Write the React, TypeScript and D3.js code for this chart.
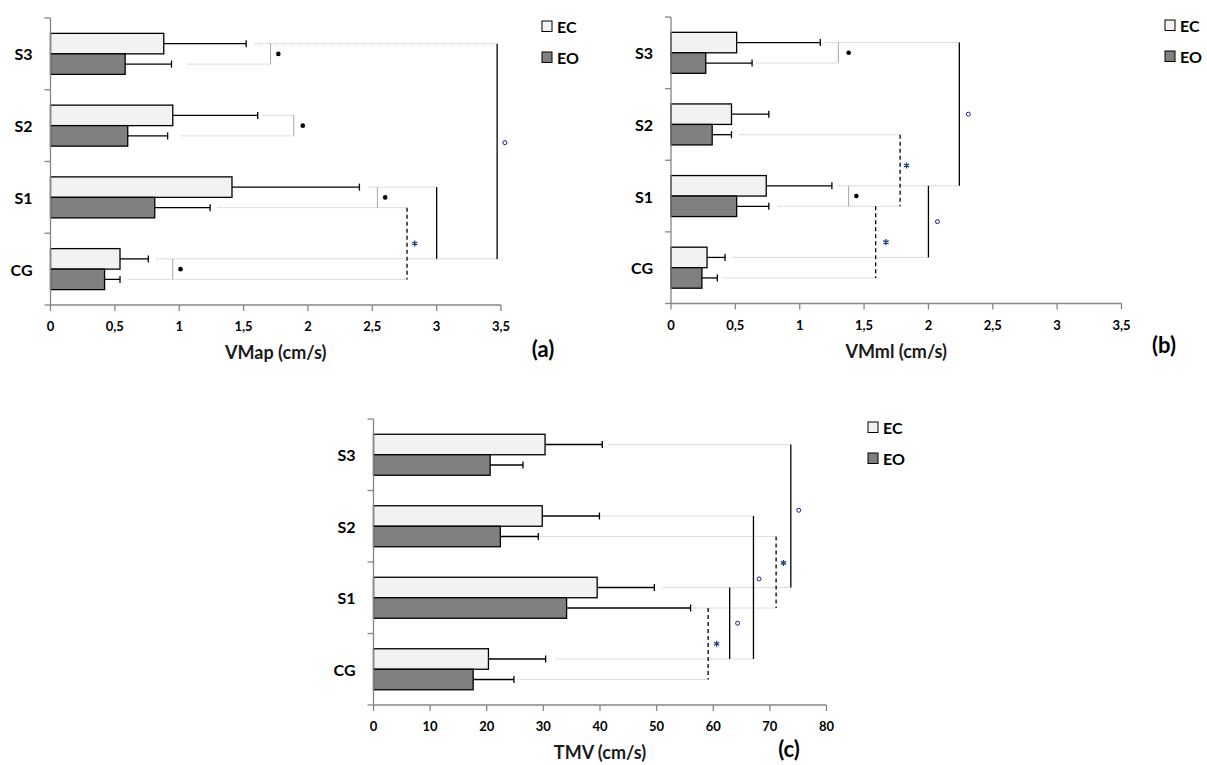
import * as d3 from "d3";

// categories top to bottom
const categories = ["S3", "S2", "S1", "CG"];
const series = ["EC", "EO"];

// (a) VMap (cm/s)
const vmapEC = [0.88, 0.95, 1.41, 0.54];
const vmapECsd = [0.64, 0.66, 0.99, 0.22];
const vmapEO = [0.58, 0.6, 0.81, 0.42];
const vmapEOsd = [0.36, 0.31, 0.43, 0.12];

// (b) VMml (cm/s)
const vmmlEC = [0.51, 0.47, 0.74, 0.28];
const vmmlECsd = [0.65, 0.29, 0.51, 0.14];
const vmmlEO = [0.27, 0.32, 0.51, 0.24];
const vmmlEOsd = [0.36, 0.15, 0.25, 0.12];

// (c) TMV (cm/s)
const tmvEC = [30.3, 29.8, 39.5, 20.3];
const tmvECsd = [10.1, 10.1, 10.1, 10.1];
const tmvEO = [20.6, 22.4, 34.1, 17.6];
const tmvEOsd = [5.8, 6.7, 21.9, 7.2];

// dotted guide lines: [category, series, from, to]
type Leader = [string, string, number, number];
const vmapLeaders: Leader[] = [
  ["S3", "EC", 1.59, 3.47],
  ["S3", "EO", 1.06, 1.71],
  ["S2", "EC", 1.65, 1.89],
  ["S2", "EO", 1.01, 1.89],
  ["S1", "EC", 2.47, 3.0],
  ["S1", "EO", 1.3, 2.77],
  ["CG", "EC", 0.82, 3.47],
  ["CG", "EO", 0.6, 2.77],
];
const vmmlLeaders: Leader[] = [
  ["S3", "EC", 1.19, 2.24],
  ["S3", "EO", 0.66, 1.3],
  ["S2", "EO", 0.53, 1.78],
  ["S1", "EC", 1.29, 2.24],
  ["S1", "EO", 0.83, 1.78],
  ["CG", "EC", 0.48, 2.0],
  ["CG", "EO", 0.4, 1.59],
];
const tmvLeaders: Leader[] = [
  ["S3", "EC", 41.5, 73.7],
  ["S2", "EC", 40.1, 67.1],
  ["S2", "EO", 29.5, 71.1],
  ["S1", "EC", 50.9, 73.7],
  ["S1", "EO", 56.4, 71.1],
  ["CG", "EC", 32.1, 67.1],
  ["CG", "EO", 25.5, 59.1],
];

// significance brackets
type Bracket = {
  a: [string, string];
  b: [string, string];
  x: number;
  kind: "pair" | "group" | "groupEO";
  mark: "dot" | "star" | "ring" | null;
  mx: number;
  t?: number;
};
const vmapBrackets: Bracket[] = [
  { a: ["S3", "EC"], b: ["S3", "EO"], x: 1.71, kind: "pair", mark: "dot", mx: 1.77 },
  { a: ["S2", "EC"], b: ["S2", "EO"], x: 1.89, kind: "pair", mark: "dot", mx: 1.96 },
  { a: ["S1", "EC"], b: ["S1", "EO"], x: 2.54, kind: "pair", mark: "dot", mx: 2.6 },
  { a: ["CG", "EC"], b: ["CG", "EO"], x: 0.95, kind: "pair", mark: "dot", mx: 1.01 },
  { a: ["S1", "EO"], b: ["CG", "EO"], x: 2.77, kind: "groupEO", mark: "star", mx: 2.83 },
  { a: ["S1", "EC"], b: ["CG", "EC"], x: 3.0, kind: "group", mark: null, mx: 3.0 },
  { a: ["S3", "EC"], b: ["CG", "EC"], x: 3.47, kind: "group", mark: "ring", mx: 3.53, t: 0.46 },
];
const vmmlBrackets: Bracket[] = [
  { a: ["S3", "EC"], b: ["S3", "EO"], x: 1.3, kind: "pair", mark: "dot", mx: 1.38 },
  { a: ["S1", "EC"], b: ["S1", "EO"], x: 1.38, kind: "pair", mark: "dot", mx: 1.44 },
  { a: ["S2", "EO"], b: ["S1", "EO"], x: 1.78, kind: "groupEO", mark: "star", mx: 1.83, t: 0.43 },
  { a: ["S1", "EO"], b: ["CG", "EO"], x: 1.59, kind: "groupEO", mark: "star", mx: 1.67 },
  { a: ["S1", "EC"], b: ["CG", "EC"], x: 2.0, kind: "group", mark: "ring", mx: 2.07 },
  { a: ["S3", "EC"], b: ["S1", "EC"], x: 2.24, kind: "group", mark: "ring", mx: 2.31 },
];
const tmvBrackets: Bracket[] = [
  { a: ["S3", "EC"], b: ["S1", "EC"], x: 73.7, kind: "group", mark: "ring", mx: 75.1, t: 0.46 },
  { a: ["S2", "EC"], b: ["CG", "EC"], x: 67.1, kind: "group", mark: "ring", mx: 68.1, t: 0.44 },
  { a: ["S2", "EO"], b: ["S1", "EO"], x: 71.1, kind: "groupEO", mark: "star", mx: 72.4, t: 0.37 },
  { a: ["S1", "EC"], b: ["CG", "EC"], x: 62.9, kind: "group", mark: "ring", mx: 64.3 },
  { a: ["S1", "EO"], b: ["CG", "EO"], x: 59.1, kind: "groupEO", mark: "star", mx: 60.6 },
];

const FONT = "Lato, 'Open Sans', sans-serif";
const fmt = (v: number) => String(v).replace(".", ",");

type PanelProps = {
  left: number;
  right: number;
  top: number;
  bottom: number;
  max: number;
  step: number;
  title: string;
  tag: string;
  tagX: number;
  tagY: number;
  legendX: number;
  legendY: number;
  ec: number[];
  ecSd: number[];
  eo: number[];
  eoSd: number[];
  leaders: Leader[];
  brackets: Bracket[];
};

function Panel(p: PanelProps) {
  const x = d3.scaleLinear().domain([0, p.max]).range([p.left, p.right]);
  const y = d3.scaleBand().domain(categories).range([p.top, p.bottom]);
  const barH = 20.5;
  const cy = (c: string) => (y(c) ?? 0) + y.bandwidth() / 2;
  const sy = (c: string, s: string) => cy(c) + (s === "EC" ? -barH / 2 : barH / 2);
  const ticks = d3.range(0, p.max + p.step / 2, p.step);
  const yTicks = [...categories.map((c) => y(c) ?? 0), p.bottom];
  const star = d3.symbol(d3.symbolAsterisk, 26)();
  const vals: Record<string, [number[], number[]]> = {
    EC: [p.ec, p.ecSd],
    EO: [p.eo, p.eoSd],
  };

  return (
    <g>
      {/* bars + error bars */}
      {categories.map((c, i) =>
        series.map((s) => {
          const [m, sd] = vals[s];
          const yc = sy(c, s);
          const xe = x(m[i] + sd[i]);
          return (
            <g key={c + s}>
              <rect
                x={x(0)}
                y={yc - barH / 2}
                width={x(m[i]) - x(0)}
                height={barH}
                fill={s === "EC" ? "#f2f2f2" : "#808080"}
                stroke="#000"
                strokeWidth={1.3}
              />
              <line x1={x(m[i])} x2={xe} y1={yc} y2={yc} stroke="#000" strokeWidth={1.3} />
              <line x1={xe} x2={xe} y1={yc - 3.5} y2={yc + 3.5} stroke="#000" strokeWidth={1.3} />
            </g>
          );
        })
      )}

      {/* dotted guides */}
      {p.leaders.map(([c, s, a, b], i) => (
        <line
          key={"l" + i}
          x1={x(a)}
          x2={x(b)}
          y1={sy(c, s)}
          y2={sy(c, s)}
          stroke="#bdbdbd"
          strokeWidth={1}
          strokeDasharray="1,1"
        />
      ))}

      {/* brackets */}
      {p.brackets.map((br, i) => {
        const y1 = sy(br.a[0], br.a[1]);
        const y2 = sy(br.b[0], br.b[1]);
        const my = y1 + (y2 - y1) * (br.t ?? 0.5);
        const stroke = br.kind === "pair" ? "#a6a6a6" : "#000";
        return (
          <g key={"b" + i}>
            <line
              x1={x(br.x)}
              x2={x(br.x)}
              y1={y1}
              y2={y2}
              stroke={stroke}
              strokeWidth={br.kind === "pair" ? 1 : 1.3}
              strokeDasharray={br.kind === "groupEO" ? "4,3" : undefined}
            />
            {br.mark === "dot" && <circle cx={x(br.mx)} cy={my} r={2.3} fill="#000" />}
            {br.mark === "ring" && (
              <circle cx={x(br.mx)} cy={my} r={2} fill="#fff" stroke="#1c1c80" strokeWidth={1} />
            )}
            {br.mark === "star" && (
              <path
                d={star ?? ""}
                transform={`translate(${x(br.mx)},${my})`}
                fill="none"
                stroke="#1f3f78"
                strokeWidth={1.3}
              />
            )}
          </g>
        );
      })}

      {/* y axis */}
      <line x1={p.left} x2={p.left} y1={p.top} y2={p.bottom} stroke="#868686" strokeWidth={1.3} />
      {yTicks.map((t, i) => (
        <line key={"yt" + i} x1={p.left - 6} x2={p.left} y1={t} y2={t} stroke="#868686" strokeWidth={1.3} />
      ))}
      {categories.map((c) => (
        <text
          key={"yl" + c}
          x={p.left - 18}
          y={cy(c)}
          textAnchor="end"
          dominantBaseline="central"
          fontFamily={FONT}
          fontWeight="bold"
          fontSize={16}
        >
          {c}
        </text>
      ))}

      {/* x axis */}
      <line x1={p.left} x2={p.right} y1={p.bottom} y2={p.bottom} stroke="#868686" strokeWidth={1.3} />
      {ticks.map((t) => (
        <g key={"xt" + t}>
          <line x1={x(t)} x2={x(t)} y1={p.bottom} y2={p.bottom + 6} stroke="#868686" strokeWidth={1.3} />
          <text
            x={x(t)}
            y={p.bottom + 21}
            textAnchor="middle"
            dominantBaseline="central"
            fontFamily={FONT}
            fontWeight="bold"
            fontSize={13}
          >
            {fmt(t)}
          </text>
        </g>
      ))}
      <text
        x={(p.left + p.right) / 2}
        y={p.bottom + 47}
        textAnchor="middle"
        dominantBaseline="central"
        fontFamily={FONT}
        fontWeight="bold"
        fontSize={18}
        fill="#1a1a1a"
      >
        {p.title}
      </text>
      <text
        x={p.tagX}
        y={p.tagY}
        textAnchor="middle"
        dominantBaseline="central"
        fontFamily={FONT}
        fontWeight="bold"
        fontSize={22}
      >
        {p.tag}
      </text>

      {/* legend */}
      {series.map((s, i) => (
        <g key={"lg" + s} transform={`translate(${p.legendX},${p.legendY + i * 31})`}>
          <rect
            x={0}
            y={0}
            width={10}
            height={10.5}
            fill={s === "EC" ? "#f2f2f2" : "#808080"}
            stroke="#000"
            strokeWidth={1}
          />
          <text
            x={15}
            y={5.5}
            dominantBaseline="central"
            fontFamily={FONT}
            fontWeight="bold"
            fontSize={16}
          >
            {s}
          </text>
        </g>
      ))}
    </g>
  );
}

export default function App() {
  return (
    <svg
      width={1207}
      height={765}
      style={{ position: "absolute", left: 0, top: 0, background: "#fff" }}
    >
      <rect width={1207} height={765} fill="#fff" />
      <Panel
        left={50.5}
        right={501}
        top={18}
        bottom={305}
        max={3.5}
        step={0.5}
        title="VMap (cm/s)"
        tag="(a)"
        tagX={543}
        tagY={348}
        legendX={542}
        legendY={21}
        ec={vmapEC}
        ecSd={vmapECsd}
        eo={vmapEO}
        eoSd={vmapEOsd}
        leaders={vmapLeaders}
        brackets={vmapBrackets}
      />
      <Panel
        left={671}
        right={1121.5}
        top={17}
        bottom={303.5}
        max={3.5}
        step={0.5}
        title="VMml (cm/s)"
        tag="(b)"
        tagX={1164}
        tagY={344}
        legendX={1165}
        legendY={20}
        ec={vmmlEC}
        ecSd={vmmlECsd}
        eo={vmmlEO}
        eoSd={vmmlEOsd}
        leaders={vmmlLeaders}
        brackets={vmmlBrackets}
      />
      <Panel
        left={373.5}
        right={826.5}
        top={419}
        bottom={705}
        max={80}
        step={10}
        title="TMV (cm/s)"
        tag="(c)"
        tagX={789}
        tagY={748}
        legendX={868}
        legendY={422}
        ec={tmvEC}
        ecSd={tmvECsd}
        eo={tmvEO}
        eoSd={tmvEOsd}
        leaders={tmvLeaders}
        brackets={tmvBrackets}
      />
    </svg>
  );
}
